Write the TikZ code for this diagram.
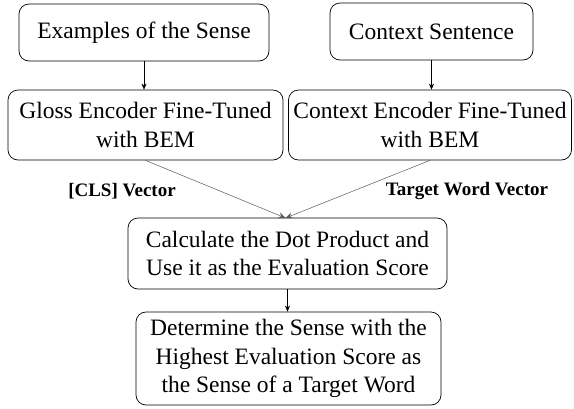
\documentclass[tikz,border=0pt]{standalone}
\usepackage{fontspec}
\setmainfont{Liberation Serif}
\usetikzlibrary{arrows.meta}
\begin{document}
\begin{tikzpicture}[x=1pt,y=1pt,
  box/.style={draw, line width=0.7pt, rounded corners=10pt, align=center,
    font=\fontsize{23.5}{28.5}\selectfont, inner sep=0pt},
  lab/.style={font=\fontsize{19}{22}\selectfont\bfseries, inner sep=0pt},
  arr/.style={-{Stealth[length=6pt,width=5pt]}, line width=0.5pt},
  conv/.style={-{Stealth[length=7pt,width=6pt]}, line width=0.5pt, draw=black!65}]
\useasboundingbox (0,0) rectangle (574,-408);
\node[box, minimum width=250, minimum height=57] (ex) at (144,-32.5) {Examples of the Sense};
\node[box, minimum width=203, minimum height=57] (cs) at (431.5,-31.5) {Context Sentence};
\node[box, minimum width=275, minimum height=70] (ge) at (145.5,-125) {Gloss Encoder Fine-Tuned\\with BEM};
\node[box, minimum width=283, minimum height=70] (ce) at (430,-125) {Context Encoder Fine-Tuned\\with BEM};
\node[box, minimum width=319, minimum height=71] (dp) at (287.5,-253.5) {Calculate the Dot Product and\\Use it as the Evaluation Score};
\node[box, minimum width=305, minimum height=93] (det) at (288.5,-358.5) {Determine the Sense with the\\Highest Evaluation Score as\\the Sense of a Target Word};
\node[lab] (cls) at (122,-191) {[CLS] Vector};
\node[lab] (tw) at (467,-191) {Target Word Vector};
\coordinate (meet) at (285.5,-218);
\draw[arr] (ex) -- (ge.north -| ex);
\draw[arr] (cs) -- (ce.north -| cs);
\draw[conv] (ge.south) -- (meet);
\draw[conv] (ce.south) -- (meet);
\draw[arr] (dp.south) -- (det.north -| dp.south);
\end{tikzpicture}
\end{document}
